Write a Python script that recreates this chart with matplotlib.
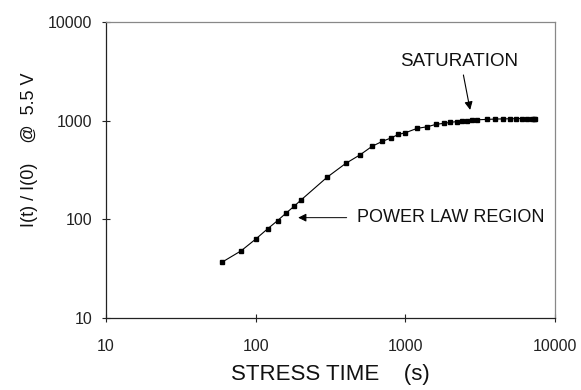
import matplotlib
matplotlib.use('Agg')
import matplotlib.pyplot as plt

plt.rcParams['font.family'] = ['Liberation Sans', 'DejaVu Sans']

# stress time (s) and normalized current I(t)/I(0) at 5.5 V
stress_time = [60, 80, 100, 120, 140, 160, 180, 200, 300, 400, 500, 600,
               700, 800, 900, 1000, 1200, 1400, 1600, 1800, 2000, 2200,
               2400, 2600, 2800, 3000, 3500, 4000, 4500, 5000, 5500, 6000,
               6500, 7000, 7200, 7400]
current_ratio = [37, 48, 63, 80, 97, 116, 135, 156, 267, 369, 452, 550,
                 616, 667, 726, 754, 836, 867, 917, 939, 961, 978,
                 990, 1000, 1012, 1020, 1030, 1038, 1042, 1045, 1048, 1050,
                 1045, 1040, 1035, 1035]

x_ticks = [10, 100, 1000, 10000]
y_ticks = [10, 100, 1000, 10000]

W, H = 581, 390
fig = plt.figure(figsize=(W / 100, H / 100), dpi=100)
ax = fig.add_axes([106 / W, 1 - 318 / H, (555 - 106) / W, (318 - 22) / H])

ax.plot(stress_time, current_ratio, color='black', lw=0.8,
        marker='s', markersize=2.2, markerfacecolor='black',
        markeredgecolor='black')

ax.set_xscale('log')
ax.set_yscale('log')
ax.set_xlim(10, 10000)
ax.set_ylim(10, 10000)
ax.set_xticks(x_ticks)
ax.set_xticklabels([str(v) for v in x_ticks])
ax.set_yticks(y_ticks)
ax.set_yticklabels([str(v) for v in y_ticks])
ax.minorticks_off()

ax.tick_params(axis='both', direction='inout', length=6, width=0.8,
               labelsize=11.5, colors='#222222')
ax.tick_params(axis='y', pad=7)
ax.tick_params(axis='x', pad=12)

for side in ['left', 'bottom']:
    ax.spines[side].set_color('#222222')
    ax.spines[side].set_linewidth(0.9)
for side in ['top', 'right']:
    ax.spines[side].set_color('#888888')
    ax.spines[side].set_linewidth(0.9)

ax.set_xlabel('STRESS TIME    (s)', fontsize=16, labelpad=7, color='#111111')
ax.set_ylabel('I(t) / I(0)    @  5.5 V', fontsize=13, color='#111111')
ax.yaxis.set_label_coords(-68 / 449, 0.57)

# annotations
ax.text(0.787, 0.866, 'SATURATION', transform=ax.transAxes, fontsize=13.5,
        ha='center', va='center', color='#111111')
ax.annotate('', xy=(0.811, 0.703), xytext=(0.796, 0.821),
            xycoords='axes fraction', textcoords='axes fraction',
            arrowprops=dict(arrowstyle='-|>', color='black', lw=0.8,
                            mutation_scale=12, shrinkA=0, shrinkB=0))

ax.text(0.558, 0.338, 'POWER LAW REGION', transform=ax.transAxes,
        fontsize=13, ha='left', va='center', color='#111111')
ax.annotate('', xy=(0.428, 0.339), xytext=(0.536, 0.339),
            xycoords='axes fraction', textcoords='axes fraction',
            arrowprops=dict(arrowstyle='-|>', color='black', lw=0.7,
                            mutation_scale=12, shrinkA=0, shrinkB=0))

fig.savefig('out.png', dpi=100)
